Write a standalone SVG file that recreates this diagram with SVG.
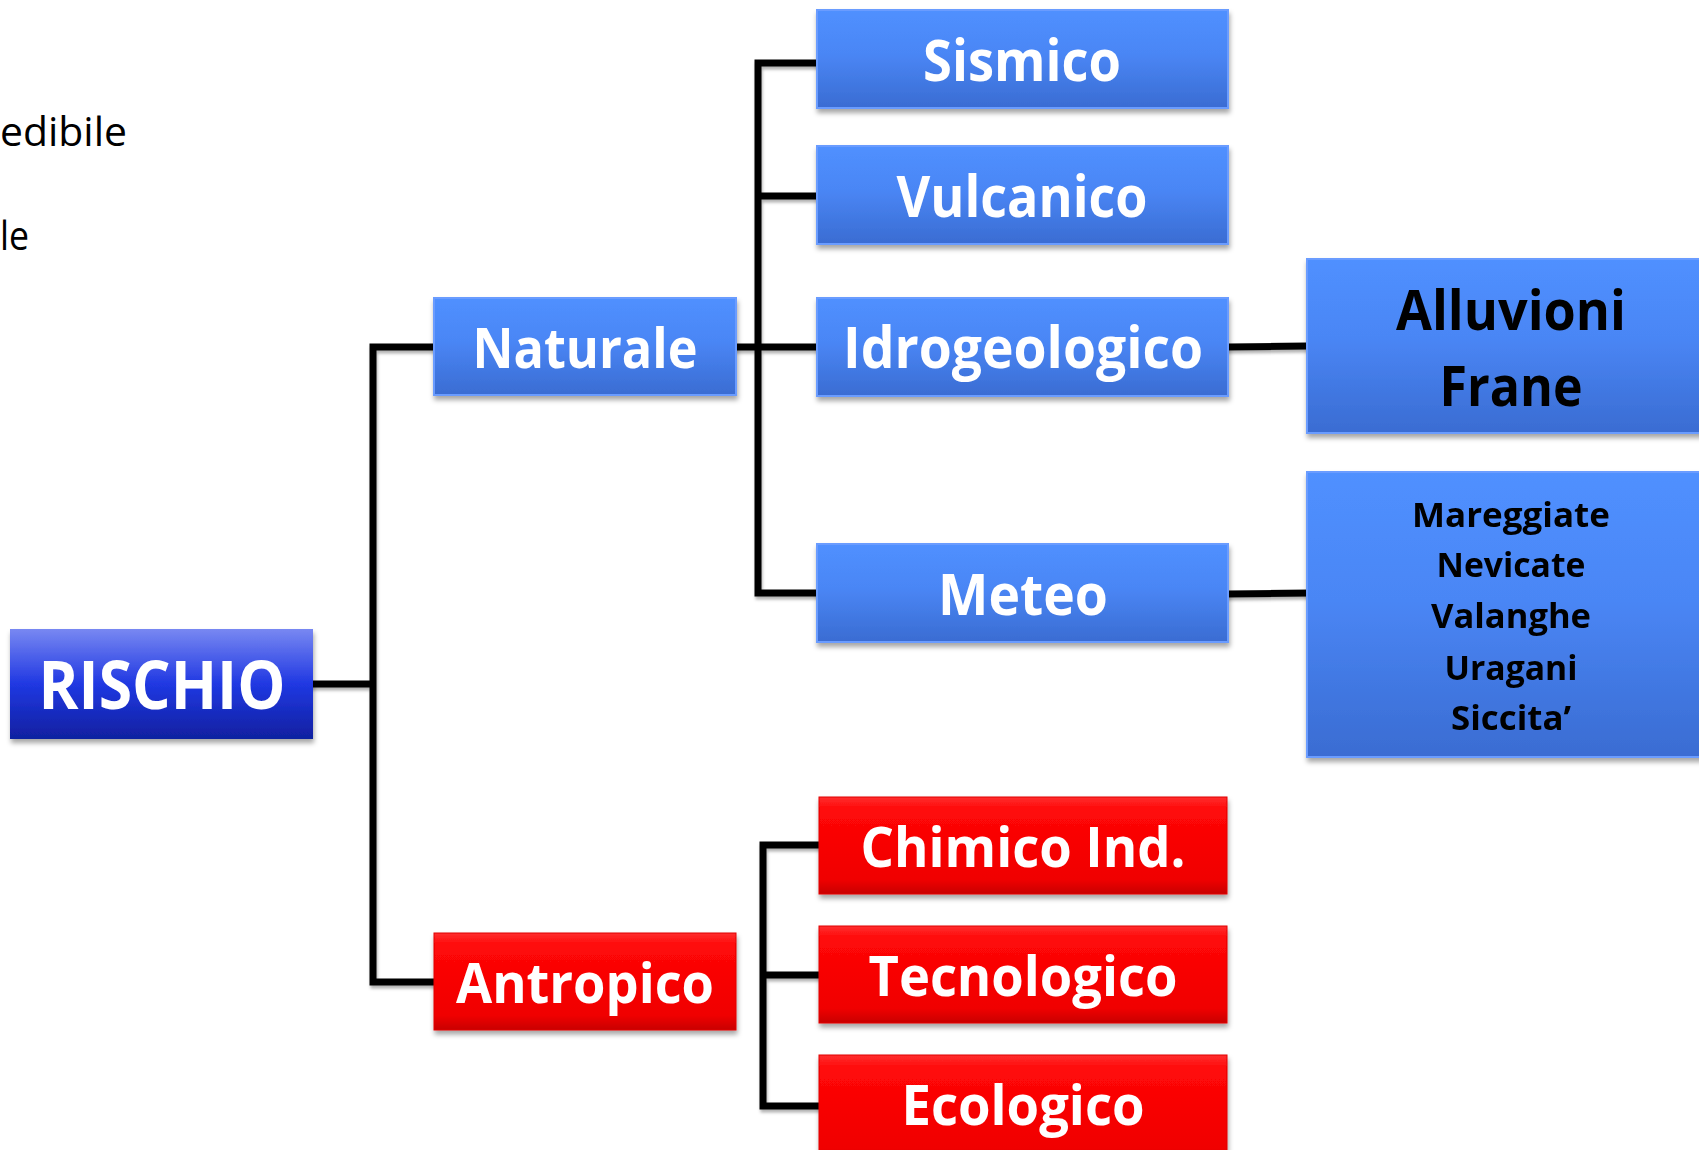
<svg xmlns="http://www.w3.org/2000/svg" width="1699" height="1150" viewBox="0 0 1699 1150">
<style>
.lbl{font-family:"Open Sans","Liberation Sans",sans-serif;font-weight:bold;fill:#ffffff;text-anchor:middle}
.blk{font-family:"Open Sans","Liberation Sans",sans-serif;font-weight:bold;fill:#000000;text-anchor:middle}
.plain{font-family:"Open Sans","Liberation Sans",sans-serif;fill:#000000;text-anchor:end}
.conn{stroke:#000000;stroke-width:7;fill:none;stroke-linejoin:miter;stroke-linecap:square}
.blue{fill:url(#gBlue);stroke:#6a9cff;stroke-width:2}
.red{fill:url(#gRed);stroke:#e00000;stroke-width:1}
</style>
<defs>
<linearGradient id="gBlue" x1="0" y1="0" x2="0" y2="1">
<stop offset="0" stop-color="#5090ff"/>
<stop offset="0.45" stop-color="#4a86f5"/>
<stop offset="1" stop-color="#3a6cd2"/>
</linearGradient>
<linearGradient id="gRed" x1="0" y1="0" x2="0" y2="1">
<stop offset="0" stop-color="#ff3030"/>
<stop offset="0.12" stop-color="#ff0808"/>
<stop offset="0.85" stop-color="#f00000"/>
<stop offset="1" stop-color="#c80000"/>
</linearGradient>
<linearGradient id="gRis" x1="0" y1="0" x2="0" y2="1">
<stop offset="0" stop-color="#7888f2"/>
<stop offset="0.5" stop-color="#2038e2"/>
<stop offset="1" stop-color="#1020a0"/>
</linearGradient>
<filter id="sh" x="-10%" y="-10%" width="120%" height="130%">
<feDropShadow dx="1" dy="4" stdDeviation="2.5" flood-color="#000000" flood-opacity="0.35"/>
</filter>
<filter id="lsh" x="-5%" y="-5%" width="110%" height="110%">
<feDropShadow dx="1" dy="3" stdDeviation="1.5" flood-color="#000000" flood-opacity="0.3"/>
</filter>
</defs>
<rect width="1699" height="1150" fill="#ffffff"/>

<g id="side-text">
<text class="plain" x="127" y="146" font-size="40" textLength="127" lengthAdjust="spacingAndGlyphs">edibile</text>
<text class="plain" x="29" y="250" font-size="40" textLength="29" lengthAdjust="spacingAndGlyphs">le</text>
</g>

<g id="connectors" filter="url(#lsh)">
<path class="conn" d="M313 684 H373 M434 347 H373 V982 H434"/>
<path class="conn" d="M736 347 H817 M817 63 H758 V593 H817 M758 196 H817"/>
<path class="conn" d="M1228 347 L1307 346 M1228 594 L1307 593"/>
<path class="conn" d="M819 845 H763 V1106 H819 M763 975 H819"/>
</g>

<g id="rischio" filter="url(#sh)">
<rect x="10" y="629" width="303" height="110" fill="url(#gRis)"/>
<text class="lbl" x="162" y="709" font-size="66" textLength="247" lengthAdjust="spacingAndGlyphs">RISCHIO</text>
</g>

<g id="naturale" filter="url(#sh)">
<rect class="blue" x="434" y="298" width="302" height="97"/>
<text class="lbl" x="585" y="368" font-size="56" textLength="225" lengthAdjust="spacingAndGlyphs">Naturale</text>
</g>

<g id="antropico" filter="url(#sh)">
<rect class="red" x="434" y="933" width="302" height="97"/>
<text class="lbl" x="585" y="1003" font-size="56" textLength="258" lengthAdjust="spacingAndGlyphs">Antropico</text>
</g>

<g id="sismico" filter="url(#sh)">
<rect class="blue" x="817" y="10" width="411" height="98"/>
<text class="lbl" x="1022" y="81" font-size="58" textLength="198" lengthAdjust="spacingAndGlyphs">Sismico</text>
</g>

<g id="vulcanico" filter="url(#sh)">
<rect class="blue" x="817" y="146" width="411" height="98"/>
<text class="lbl" x="1022" y="217" font-size="58" textLength="251" lengthAdjust="spacingAndGlyphs">Vulcanico</text>
</g>

<g id="idrogeologico" filter="url(#sh)">
<rect class="blue" x="817" y="298" width="411" height="98"/>
<text class="lbl" x="1023" y="368" font-size="58" textLength="360" lengthAdjust="spacingAndGlyphs">Idrogeologico</text>
</g>

<g id="meteo" filter="url(#sh)">
<rect class="blue" x="817" y="544" width="411" height="98"/>
<text class="lbl" x="1023" y="615" font-size="58" textLength="170" lengthAdjust="spacingAndGlyphs">Meteo</text>
</g>

<g id="alluvioni-frane" filter="url(#sh)">
<rect class="blue" x="1307" y="259" width="410" height="174"/>
<text class="blk" x="1511" y="330" font-size="56" textLength="230" lengthAdjust="spacingAndGlyphs">Alluvioni</text>
<text class="blk" x="1511" y="406" font-size="56" textLength="143" lengthAdjust="spacingAndGlyphs">Frane</text>
</g>

<g id="meteo-eventi" filter="url(#sh)">
<rect class="blue" x="1307" y="472" width="410" height="285"/>
<text class="blk" x="1511" y="527" font-size="34" textLength="198" lengthAdjust="spacingAndGlyphs">Mareggiate</text>
<text class="blk" x="1511" y="577" font-size="34" textLength="149" lengthAdjust="spacingAndGlyphs">Nevicate</text>
<text class="blk" x="1511" y="628" font-size="34" textLength="160" lengthAdjust="spacingAndGlyphs">Valanghe</text>
<text class="blk" x="1511" y="680" font-size="34" textLength="133" lengthAdjust="spacingAndGlyphs">Uragani</text>
<text class="blk" x="1511" y="730" font-size="34" textLength="120" lengthAdjust="spacingAndGlyphs">Siccita’</text>
</g>

<g id="chimico" filter="url(#sh)">
<rect class="red" x="819" y="797" width="408" height="97"/>
<text class="lbl" x="1023" y="867" font-size="56" textLength="325" lengthAdjust="spacingAndGlyphs">Chimico Ind.</text>
</g>

<g id="tecnologico" filter="url(#sh)">
<rect class="red" x="819" y="926" width="408" height="97"/>
<text class="lbl" x="1023" y="996" font-size="56" textLength="309" lengthAdjust="spacingAndGlyphs">Tecnologico</text>
</g>

<g id="ecologico" filter="url(#sh)">
<rect class="red" x="819" y="1055" width="408" height="110"/>
<text class="lbl" x="1023" y="1125" font-size="56" textLength="243" lengthAdjust="spacingAndGlyphs">Ecologico</text>
</g>
</svg>
